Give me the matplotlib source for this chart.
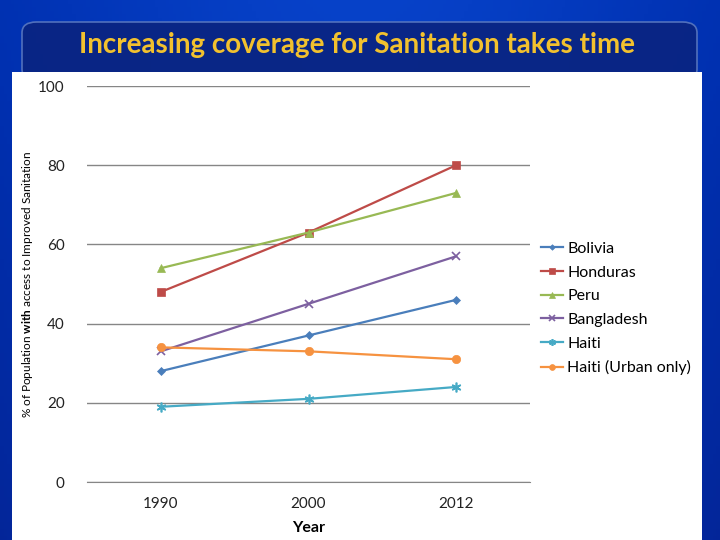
import numpy as np
import matplotlib
matplotlib.use("Agg")
import matplotlib.pyplot as plt
from matplotlib.patches import FancyBboxPatch, Rectangle

plt.rcParams['font.family'] = ['Lato', 'DejaVu Sans']
plt.rcParams['mathtext.fontset'] = 'custom'
plt.rcParams['mathtext.rm'] = 'Lato'
plt.rcParams['mathtext.bf'] = 'Lato:bold'

# data
years = ['1990', '2000', '2012']
bolivia = [28, 37, 46]
honduras = [48, 63, 80]
peru = [54, 63, 73]
bangladesh = [33, 45, 57]
haiti = [19, 21, 24]
haiti_urban = [34, 33, 31]

series = [
    ('Bolivia', bolivia, '#4A7EBB', 'D', 4),
    ('Honduras', honduras, '#BE4B48', 's', 6),
    ('Peru', peru, '#98B954', '^', 6),
    ('Bangladesh', bangladesh, '#7D60A0', 'x', 6),
    ('Haiti', haiti, '#46AAC5', (6, 2, 0), 7),
    ('Haiti (Urban only)', haiti_urban, '#F69240', 'o', 6),
]

fig = plt.figure(figsize=(7.2, 5.4), dpi=100)

# blue slide background
bg = fig.add_axes([0, 0, 1, 1], zorder=-10)
xx, yy = np.meshgrid(np.linspace(0, 1, 200), np.linspace(0, 1, 150))
val = 0.5 + 0.45 * np.exp(-((xx - 0.5) / 0.45) ** 2) - 0.2 * yy
bg.imshow(val, cmap=matplotlib.colors.LinearSegmentedColormap.from_list(
    'b', ['#08187A', '#0030B0', '#0844CC']), aspect='auto',
    extent=[0, 1, 0, 1], origin='upper', vmin=0.2, vmax=1.0)
bg.set_xlim(0, 1)
bg.set_ylim(0, 1)
bg.axis('off')

# title box
bg.add_patch(FancyBboxPatch((22 / 720, 1 - 80 / 540), 675 / 720, 58 / 540,
                            boxstyle='round,pad=0,rounding_size=0.02',
                            facecolor='#0A2480', edgecolor='#5A78C0',
                            linewidth=1.2, alpha=0.9))
# white panel
bg.add_patch(Rectangle((12 / 720, 0), 690 / 720, 1 - 72 / 540,
                       facecolor='white', edgecolor='none'))
fig.text(357 / 720, 1 - 45 / 540, 'Increasing coverage for Sanitation takes time',
         ha='center', va='center', color='#F2C12E', fontsize=20, fontweight='bold')

ax = fig.add_axes([87 / 720, 1 - 482 / 540, 443 / 720, 396 / 540])
x = np.arange(len(years))
for name, vals, col, mk, ms in series:
    ax.plot(x, vals, color=col, marker=mk, markersize=ms, linewidth=1.6,
            markeredgewidth=1.2 if mk in ('x', (6, 2, 0)) else 0.5,
            label=name)

ax.set_xlim(-0.5, 2.5)
ax.set_ylim(0, 100)
ax.set_yticks(range(0, 101, 20))
ax.set_xticks(x)
ax.set_xticklabels(years)
ax.grid(axis='y', color='#868686', linewidth=1)
ax.set_axisbelow(True)
for s in ['top', 'right', 'left']:
    ax.spines[s].set_visible(False)
ax.spines['bottom'].set_color('#868686')
ax.tick_params(axis='both', length=0, labelsize=11, colors='#222222')
ax.tick_params(axis='y', pad=16)
ax.tick_params(axis='x', pad=11)
ax.set_xlabel('Year', fontsize=11.5, fontweight='bold', labelpad=7)
ax.set_ylabel(r'% of Population $\bf{with}$ access to Improved Sanitation',
              fontsize=8.5, labelpad=14)
ax.yaxis.set_label_coords(-52 / 443, 0.5)

fig.legend(loc='center left', bbox_to_anchor=(533 / 720, 1 - 308.5 / 540),
           frameon=False, fontsize=11.5, handlelength=1.4, handletextpad=0.25,
           labelspacing=0.6, borderpad=0, markerscale=0.7)

fig.savefig('out.png', dpi=100)
